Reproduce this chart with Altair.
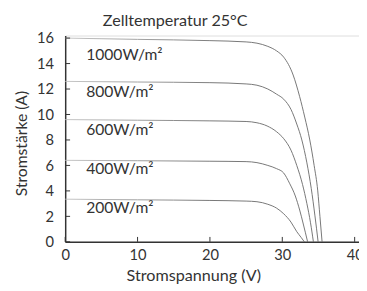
import altair as alt
import pandas as pd

FONT = "Lato"
INK = "#333333"

title_text = ["Zelltemperatur 25°C"]
series = ["1000W/m²", "800W/m²", "600W/m²", "400W/m²", "200W/m²"]

v_1000 = [0, 10, 20, 25, 26.5, 28, 29.2, 30.2, 31.5, 32.4, 33.1, 33.8, 34.4, 34.9, 35.2, 35.5]
i_1000 = [16.0, 15.9, 15.8, 15.7, 15.6, 15.35, 15.0, 14.5, 13.1, 11.4, 9.8, 8.0, 6.0, 4.0, 2.0, 0]

v_800 = [0, 10, 20, 25, 26.5, 28, 29.2, 30.2, 31.2, 32.0, 32.7, 33.4, 34.0, 34.5, 34.95]
i_800 = [12.6, 12.55, 12.5, 12.4, 12.3, 12.0, 11.6, 11.2, 10.4, 9.25, 8.0, 6.2, 4.2, 2.1, 0]

v_600 = [0, 10, 20, 25, 26.5, 27.9, 29.2, 30.2, 31.2, 32.0, 32.8, 33.4, 33.9, 34.3]
i_600 = [9.6, 9.55, 9.5, 9.45, 9.35, 9.1, 8.65, 8.1, 7.2, 6.0, 4.5, 3.0, 1.5, 0]

v_400 = [0, 10, 20, 25, 26.5, 28, 29.2, 30.2, 31.0, 31.8, 32.4, 32.9, 33.5]
i_400 = [6.4, 6.37, 6.33, 6.3, 6.22, 6.0, 5.75, 5.4, 4.6, 3.6, 2.5, 1.4, 0]

v_200 = [0, 10, 20, 25, 26.5, 28, 29.2, 30.2, 31.2, 32.0, 32.6, 33.05]
i_200 = [3.35, 3.3, 3.25, 3.2, 3.15, 2.95, 2.65, 2.2, 1.55, 0.8, 0.35, 0]

label_x = [2.9, 2.9, 2.9, 2.9, 2.9]
label_y = [14.7, 11.77, 8.8, 5.73, 2.65]

x_ticks = [0, 10, 20, 30, 40]
y_ticks = [0, 2, 4, 6, 8, 10, 12, 14, 16]

rows = []
for name, vs, cs in zip(series, [v_1000, v_800, v_600, v_400, v_200],
                        [i_1000, i_800, i_600, i_400, i_200]):
    for k, (v, c) in enumerate(zip(vs, cs)):
        rows.append({"series": name, "order": k, "v": v, "i": c})
df = pd.DataFrame(rows)
df_lab = pd.DataFrame({"label": series, "v": label_x, "i": label_y})
df_xt = pd.DataFrame({"v": x_ticks})
df_yt = pd.DataFrame({"i": y_ticks})
df_title = pd.DataFrame({"t": title_text})

W, H = 300.5, 211
xscale = alt.Scale(domain=[0, 40.6], nice=False, zero=False)
yscale = alt.Scale(domain=[0, 16.2], nice=False)

xaxis = alt.Axis(
    values=x_ticks, ticks=False, grid=False, domainColor=INK, domainWidth=1.5,
    labelFont=FONT, labelFontSize=15, labelColor=INK, labelPadding=6,
    labelOverlap=False, labelFlush=False,
    title="Stromspannung (V)", titleFont=FONT, titleFontSize=16.5,
    titleFontWeight="normal", titleColor=INK, titleX=131, titleY=35,
    titleAlign="center", titleBaseline="middle")
yaxis = alt.Axis(
    values=y_ticks, ticks=False, grid=False, domainColor=INK, domainWidth=1.5,
    labelFont=FONT, labelFontSize=15, labelColor=INK, labelPadding=12,
    labelOverlap=False, labelFlush=False,
    title="Stromstärke (A)", titleFont=FONT, titleFontSize=16,
    titleFontWeight="normal", titleColor=INK, titleX=-45, titleY=110,
    titleAngle=270, titleAlign="center", titleBaseline="middle")

X = alt.X("v:Q", scale=xscale, axis=xaxis)
Y = alt.Y("i:Q", scale=yscale, axis=yaxis)

grad = alt.Gradient(
    gradient="linear",
    stops=[alt.GradientStop(color="#c0c0c0", offset=0),
           alt.GradientStop(color="#666666", offset=0.6),
           alt.GradientStop(color="#666666", offset=1)],
    x1=0, x2=1, y1=0, y2=0,
)

lines = alt.Chart(df).mark_line(strokeWidth=0.9, stroke=grad, interpolate="monotone").encode(
    x=X, y=Y, detail="series:N", order="order:Q")

labels = alt.Chart(df_lab).mark_text(align="left", baseline="middle", font=FONT,
                                     fontSize=16, color=INK).encode(
    x=X, y=Y, text="label:N")

title = alt.Chart(df_title).mark_text(align="center", baseline="alphabetic", font=FONT,
                                      fontSize=16.5, color=INK).encode(
    x=alt.value(112.5), y=alt.value(-10), text="t:N")

xt = alt.Chart(df_xt).mark_rule(color=INK, strokeWidth=1).encode(
    x=X, y=alt.value(H), y2=alt.value(H - 5))
yt = alt.Chart(df_yt).mark_rule(color=INK, strokeWidth=1).encode(
    y=Y, x=alt.value(0), x2=alt.value(5))

chart = alt.layer(lines, labels, xt, yt, title).properties(
    width=W, height=H,
    autosize=alt.AutoSizeParams(type="none"),
    padding={"left": 58.5, "top": 25, "right": 0, "bottom": 42},
).configure_view(stroke=None).configure(background="white")

chart.save("out.html", embed_options={"renderer": "svg", "actions": False})
